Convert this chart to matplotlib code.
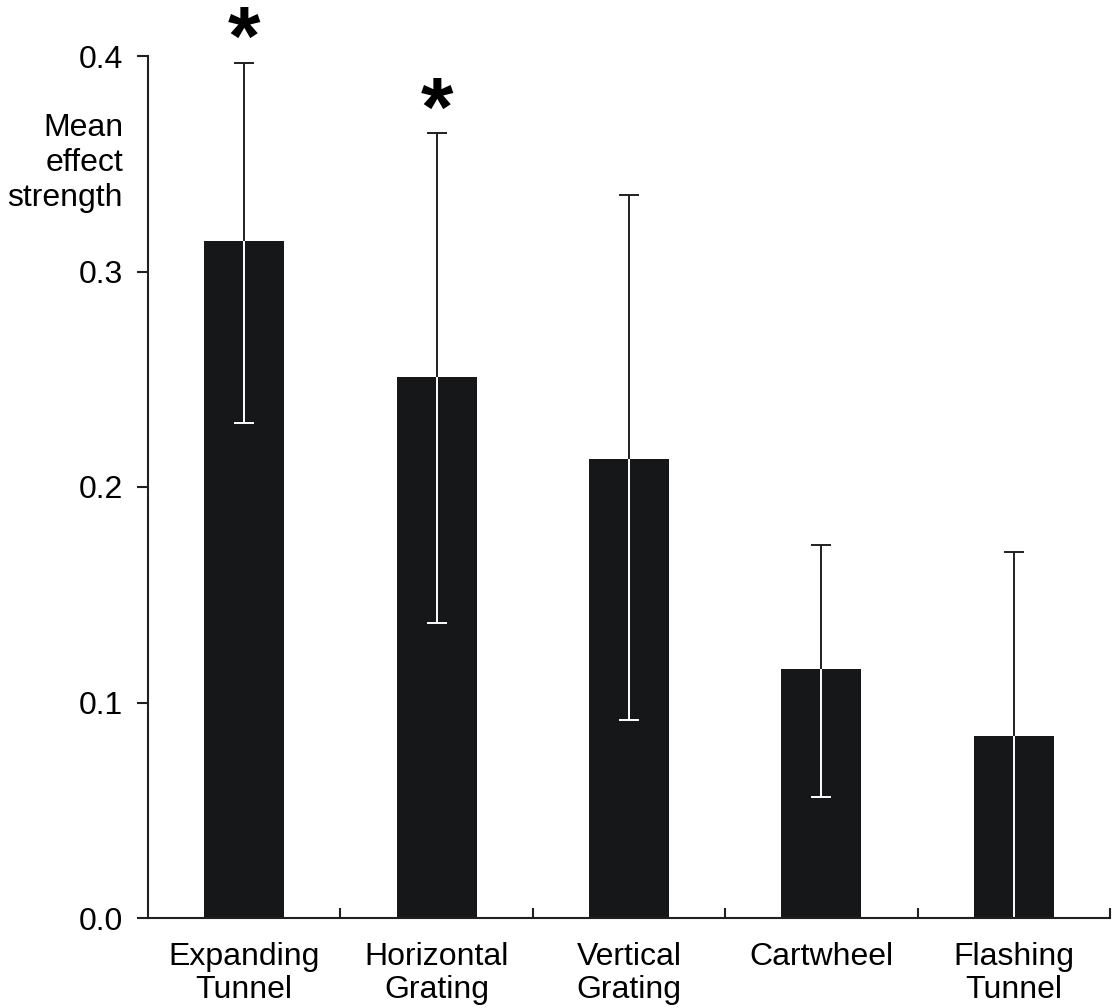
import matplotlib
matplotlib.use("Agg")
import matplotlib.pyplot as plt
import numpy as np

plt.rcParams['font.family'] = ['Liberation Sans', 'DejaVu Sans']

categories = ["Expanding\nTunnel", "Horizontal\nGrating", "Vertical\nGrating", "Cartwheel", "Flashing\nTunnel"]
means = [0.314, 0.251, 0.213, 0.1155, 0.0845]
err_low = [0.2297, 0.1369, 0.0919, 0.0561, 0.0]
err_high = [0.3968, 0.3643, 0.3355, 0.1731, 0.1698]
significant = [True, True, False, False, False]
yticks = [0.0, 0.1, 0.2, 0.3, 0.4]

dark = "#231f20"
barc = "#161718"

fig = plt.figure(figsize=(11.12, 10.08), dpi=100)
ax = fig.add_axes([148/1112, 1-918/1008, (1110-148)/1112, (918-56)/1008])

x = np.arange(len(categories))
ax.bar(x, means, width=0.415, color=barc, zorder=2)

# white part (inside bar)
ax.vlines(x, err_low, means, color="white", lw=1.4, zorder=3)
ax.plot(x, err_low, ls="none", marker="_", ms=14.5, mew=1.4, color="white", zorder=3)
# dark part (above bar)
ax.vlines(x, means, err_high, color=dark, lw=1.4, zorder=3)
ax.plot(x, err_high, ls="none", marker="_", ms=14.5, mew=1.4, color=dark, zorder=3)

for xi, hi, s in zip(x, err_high, significant):
    if s:
        ax.annotate("*", (xi, hi), xytext=(0, -14), textcoords="offset points",
                    ha="center", va="bottom", fontsize=60, fontweight="bold", color="black")

ax.set_xlim(-0.5, 4.5)
ax.set_ylim(0, 0.4)
ax.set_yticks(yticks)
ax.set_yticklabels([f"{v:.1f}" for v in yticks])
ax.set_xticks(x)
ax.set_xticklabels(categories, linespacing=1.15)
ax.set_xticks(np.arange(0.5, 5.0, 1.0), minor=True)

for s in ["top", "right"]:
    ax.spines[s].set_visible(False)
for s in ["left", "bottom"]:
    ax.spines[s].set_color(dark)
    ax.spines[s].set_linewidth(1.5)
    ax.spines[s].set_zorder(4)

ax.tick_params(axis="y", direction="out", length=8, width=1.5, color=dark, pad=10, labelsize=23)
ax.tick_params(axis="x", which="major", length=0, pad=17, labelsize=23)
ax.tick_params(axis="x", which="minor", direction="in", length=7, width=1.5, color=dark)

fig.text(123/1112, 1-163/1008, "Mean\neffect\nstrength", ha="right", va="center",
         fontsize=23, linespacing=1.2)

fig.savefig("out.png", dpi=100)
